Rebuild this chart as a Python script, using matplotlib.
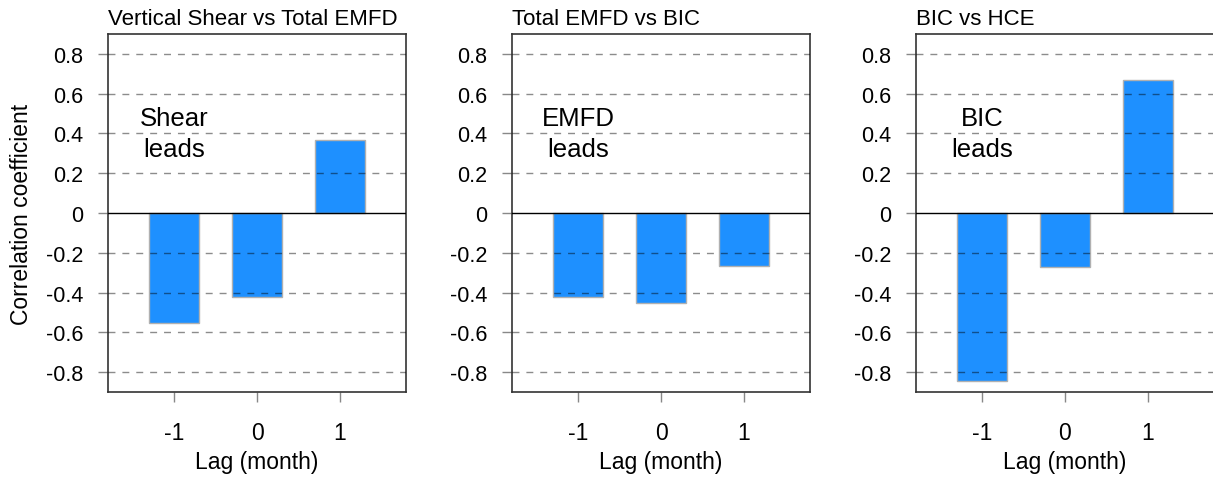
import matplotlib
matplotlib.use("Agg")
import matplotlib.pyplot as plt

# Data
lags = [-1, 0, 1]
lag_labels = ["-1", "0", "1"]
titles = ["Vertical Shear vs Total EMFD", "Total EMFD vs BIC", "BIC vs HCE"]
shear_vs_emfd = [-0.555, -0.421, 0.369]
emfd_vs_bic = [-0.424, -0.453, -0.267]
bic_vs_hce = [-0.847, -0.272, 0.669]
series = [shear_vs_emfd, emfd_vs_bic, bic_vs_hce]
annotations = ["Shear\nleads", "EMFD\nleads", "BIC\nleads"]
yticks = [-0.8, -0.6, -0.4, -0.2, 0, 0.2, 0.4, 0.6, 0.8]
ytick_labels = ["-0.8", "-0.6", "-0.4", "-0.2", "0", "0.2", "0.4", "0.6", "0.8"]

plt.rcParams['font.family'] = ['Liberation Sans', 'DejaVu Sans']

W, H = 1213, 481
fig = plt.figure(figsize=(W / 100, H / 100), dpi=100)

lefts = [108, 512, 916]
ax_w = 298
ax_top, ax_bot = 35, 393

for i, (left, vals) in enumerate(zip(lefts, series)):
    ax = fig.add_axes([left / W, (H - ax_bot) / H, ax_w / W, (ax_bot - ax_top) / H])
    ax.bar(lags, vals, width=0.6, color="#1E90FF", edgecolor="#b0b0b0",
           linewidth=1.0, zorder=2)
    for yt in yticks:
        if yt != 0:
            ax.axhline(yt, color="black", alpha=0.45, lw=1.0,
                       linestyle=(0, (5, 5)), zorder=3)
    ax.axhline(0, color="black", lw=1.0, zorder=4)
    ax.set_xlim(-1.8, 1.8)
    ax.set_ylim(-0.9, 0.9)
    ax.set_xticks(lags)
    ax.set_xticklabels(lag_labels)
    ax.set_yticks(yticks)
    ax.set_yticklabels(ytick_labels)
    ax.tick_params(axis='y', length=7, width=1.0, color="#888888", pad=11,
                   labelsize=15.5)
    ax.tick_params(axis='x', length=7, width=1.0, color="#888888", pad=14,
                   labelsize=16.5)
    for sp in ax.spines.values():
        sp.set_color("#333333")
        sp.set_linewidth(1.2)
    ax.set_xlabel("Lag (month)", fontsize=16.5, labelpad=4)
    ax.set_title(titles[i], loc='left', fontsize=16, pad=7)
    ax.text(-1, 0.4, annotations[i], ha='center', va='center', fontsize=18.5,
            linespacing=1.35, zorder=5)
    if i == 0:
        ax.set_ylabel("Correlation coefficient", fontsize=16.5, labelpad=9)

fig.savefig("out.png", dpi=100)
